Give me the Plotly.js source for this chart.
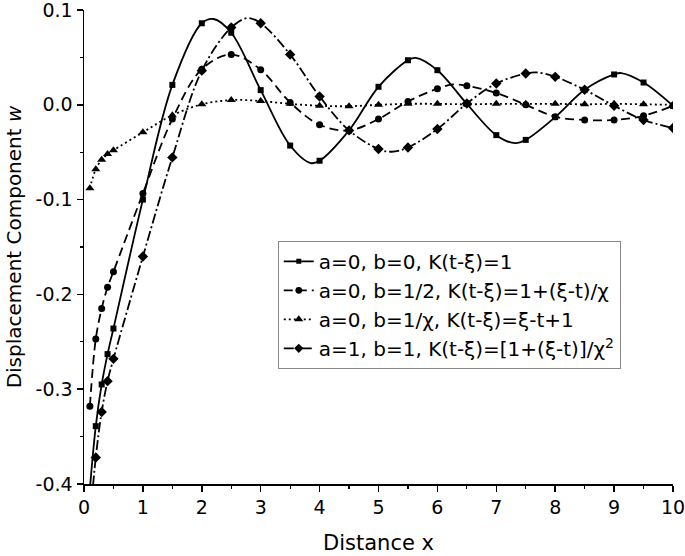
<!DOCTYPE html>
<html>
<head>
<meta charset="utf-8">
<script src="https://cdn.plot.ly/plotly-3.0.1.min.js"></script>
<style>
  html, body { margin: 0; padding: 0; background: #fff; }
  #chart { width: 685px; height: 556px; }
</style>
</head>
<body>
<div id="chart"></div>
<script>
// x positions where the curves carry a marker (same for all four)
const xs = [0.1, 0.2, 0.3, 0.4, 0.5, 1.0, 1.5, 2.0, 2.5, 3.0, 3.5, 4.0, 4.5, 5.0,
            5.5, 6.0, 6.5, 7.0, 7.5, 8.0, 8.5, 9.0, 9.5, 10.0];

// a=0, b=0
const wSolid = [-0.405, -0.339, -0.295, -0.263, -0.236, -0.100, 0.021, 0.086, 0.076, 0.0155,
                -0.043, -0.059, -0.027, 0.019, 0.047, 0.0365, 0.001, -0.032, -0.037, -0.013,
                0.0158, 0.032, 0.0235, -0.001];
// turning points of the solid curve (between markers)
const solidPeakX = [2.2, 3.85, 5.63, 7.32, 9.12];
const solidPeakY = [0.0905, -0.0615, 0.0495, -0.0405, 0.0335];

// a=0, b=1/2
const wDash = [-0.318, -0.247, -0.215, -0.1925, -0.176, -0.0935, -0.015, 0.0376, 0.053, 0.037,
               0.0024, -0.021, -0.027, -0.015, 0.0035, 0.017, 0.020, 0.0125, 0.0, -0.0126,
               -0.016, -0.016, -0.0116, -0.001];
const dashPeakX = [6.27];
const dashPeakY = [0.0215];

// a=0, b=1/chi
const wDot = [-0.088, -0.068, -0.058, -0.052, -0.048, -0.029, -0.011, 0.0005, 0.005, 0.004,
              0.001, -0.001, -0.0015, 0.0, 0.001, 0.001, 0.0005, 0.001, 0.001, 0.001,
              0.0005, 0.001, 0.0005, 0.0];

// a=1, b=1
const wDashDot = [-0.44, -0.372, -0.324, -0.2915, -0.268, -0.160, -0.0555, 0.036, 0.0815, 0.086,
                  0.053, 0.0088, -0.027, -0.0467, -0.045, -0.0256, 0.0014, 0.0225, 0.033, 0.0295,
                  0.0158, -0.001, -0.016, -0.0245];
const dashDotPeakX = [2.78, 5.22, 7.68];
const dashDotPeakY = [0.0915, -0.0495, 0.0342];

const yTickVals = [-0.4, -0.3, -0.2, -0.1, 0.0, 0.1];
const yTickText = ["-0.4", "-0.3", "-0.2", "-0.1", "0.0", "0.1"];

const names = [
    "a=0, b=0, K(t-ξ)=1",
    "a=0, b=1/2, K(t-ξ)=1+(ξ-t)/χ",
    "a=0, b=1/χ, K(t-ξ)=ξ-t+1",
    "a=1, b=1, K(t-ξ)=[1+(ξ-t)]/χ<sup>2</sup>"
];

const FONT = "DejaVu Sans, Liberation Sans, Arial, sans-serif";

// merge marker points with extra turning points; markers only on the xs grid
function curve(y, extraX, extraY, name, dash, symbol, size) {
    const pts = xs.map((x, i) => ({ x: x, y: y[i], m: true }));
    extraX.forEach((x, i) => pts.push({ x: x, y: extraY[i], m: false }));
    pts.sort((a, b) => a.x - b.x);

    return {
        x: pts.map(p => p.x),
        y: pts.map(p => p.y),
        name: name,
        type: "scatter",
        mode: "lines+markers",
        line: { color: "#000", width: 1.8, dash: dash, shape: "spline", smoothing: 1 },
        marker: {
            color: "#000",
            opacity: 1,
            symbol: symbol,
            size: pts.map(p => p.m ? size : 0),
            line: { width: 0 }
        }
    };
}

const traces = [
    curve(wSolid, solidPeakX, solidPeakY, names[0], "solid", "square", 6),
    curve(wDash, dashPeakX, dashPeakY, names[1], "9px,5px", "circle", 7),
    curve(wDot, [], [], names[2], "2px,3px", "triangle-up", 8),
    curve(wDashDot, dashDotPeakX, dashDotPeakY, names[3], "10px,3px,2px,3px", "diamond", 8)
];

const axisCommon = {
    showline: true,
    linecolor: "#000",
    linewidth: 1.5,
    ticks: "outside",
    ticklen: 6,
    tickwidth: 1.5,
    tickcolor: "#000",
    showgrid: false,
    zeroline: false,
    mirror: false,
    ticklabeloverflow: "allow",
    tickfont: { family: FONT, size: 19, color: "#000" }
};

const layout = {
    width: 685,
    height: 556,
    margin: { l: 84, r: 12, t: 10, b: 72 },
    paper_bgcolor: "#fff",
    plot_bgcolor: "#fff",
    showlegend: true,
    xaxis: Object.assign({}, axisCommon, {
        range: [0, 10],
        dtick: 1,
        tick0: 0,
        minor: { dtick: 0.5, ticks: "outside", ticklen: 3, tickwidth: 1.2, tickcolor: "#000" },
        title: { text: "Distance x", font: { family: FONT, size: 21, color: "#000" }, standoff: 18 }
    }),
    yaxis: Object.assign({}, axisCommon, {
        range: [-0.4, 0.1],
        tickmode: "array",
        tickvals: yTickVals,
        ticktext: yTickText,
        minor: { dtick: 0.05, ticks: "outside", ticklen: 3, tickwidth: 1.2, tickcolor: "#000" },
        title: { text: "Displacement Component <i>w</i>", font: { family: FONT, size: 20, color: "#000" }, standoff: 8 }
    }),
    legend: {
        x: 0.329,
        y: 0.513,
        xanchor: "left",
        yanchor: "top",
        bgcolor: "#fff",
        bordercolor: "#888",
        borderwidth: 1,
        font: { family: FONT, size: 20, color: "#000" },
        traceorder: "normal"
    }
};

Plotly.newPlot("chart", traces, layout, { displayModeBar: false, staticPlot: true });
</script>
</body>
</html>
